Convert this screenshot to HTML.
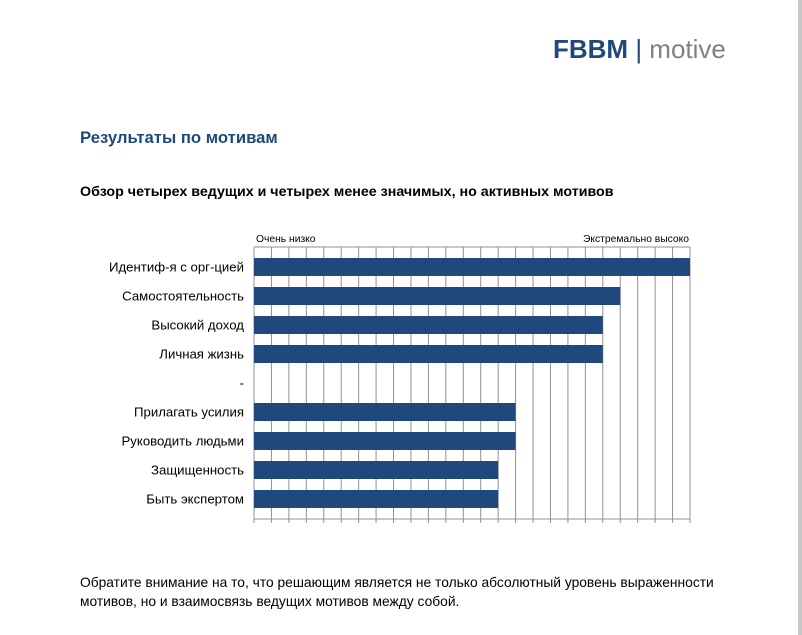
<!DOCTYPE html>
<html><head><meta charset="utf-8"><style>
body{margin:0;width:802px;height:635px;background:#fff;position:relative;overflow:hidden;font-family:"Liberation Sans","DejaVu Sans",sans-serif}
.abs{position:absolute;white-space:nowrap}
</style></head><body>
<div class="abs" style="left:798px;top:0;width:4px;height:635px;background:#c8c8c8"></div>
<div class="abs" style="left:553px;top:31px;font-size:26px;line-height:36px">
<span style="color:#1f497d;font-weight:bold">FBBM</span><span style="color:#1f497d"> | </span><span style="color:#808080">motive</span></div>
<div class="abs" style="left:80px;top:128px;font-size:16.7px;font-weight:bold;color:#1f497d">Результаты по мотивам</div>
<div class="abs" style="left:80px;top:184px;font-size:14.25px;font-weight:bold;color:#000">Обзор четырех ведущих и четырех менее значимых, но активных мотивов</div>
<svg class="abs" style="left:0;top:0" width="802" height="635"></svg>
<div class="abs" style="left:80px;top:573px;font-size:13.8px;line-height:19px;color:#000">Обратите внимание на то, что решающим является не только абсолютный уровень выраженности<br>мотивов, но и взаимосвязь ведущих мотивов между собой.</div>
<script>
const categories=["Идентиф-я с орг-цией","Самостоятельность","Высокий доход","Личная жизнь","-","Прилагать усилия","Руководить людьми","Защищенность","Быть экспертом"];
const values=[25,21,20,20,null,15,15,14,14];
const axisMax=25;
const axisLabels=["Очень низко","Экстремально высоко"];
const NS="http://www.w3.org/2000/svg";
const svg=document.querySelector('svg');
const x0=254,x1=690,yTop=247,yBot=519,row0=267,rowStep=29,barH=18;
const xs=v=>x0+(x1-x0)*v/axisMax;
const ys=i=>row0+i*rowStep;
function mk(t,a){const e=document.createElementNS(NS,t);for(const k in a)e.setAttribute(k,a[k]);svg.appendChild(e);return e;}
for(let k=0;k<=axisMax;k++){
 const g=mk('line',{x1:xs(k),x2:xs(k),y1:yTop,y2:yBot+4,stroke:'#909090','stroke-width':1});
 
 
}
const tl=mk('line',{x1:x0,x2:x1,y1:yTop,y2:yTop,stroke:'#909090','stroke-width':1});


const bl=mk('line',{x1:x0,x2:x1,y1:yBot,y2:yBot,stroke:'#909090','stroke-width':1});


categories.forEach((c,i)=>{
 const t=mk('text',{x:244,y:ys(i)+4.5,'text-anchor':'end','font-size':13.2,fill:'#000'});
 t.textContent=c;
 
 
 if(values[i]!=null){
  const r=mk('rect',{x:x0,y:ys(i)-barH/2,width:xs(values[i])-x0,height:barH,fill:'#1f497d'});
  
  
 }
});
const a1=mk('text',{x:x0+2,y:242,'font-size':10.3,fill:'#000'});a1.textContent=axisLabels[0];


const a2=mk('text',{x:x1-1,y:242,'font-size':10.3,'text-anchor':'end',fill:'#000'});a2.textContent=axisLabels[1];


</script>
</body></html>
